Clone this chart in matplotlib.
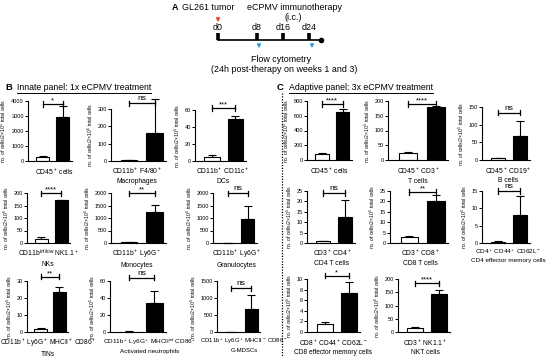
import numpy as np
import matplotlib
matplotlib.use("Agg")
import matplotlib.pyplot as plt
import matplotlib.transforms as mtransforms

plt.rcParams['font.family'] = ['Liberation Sans', 'DejaVu Sans']
plt.rcParams['mathtext.fontset'] = 'custom'
plt.rcParams['mathtext.rm'] = 'Liberation Sans'
plt.rcParams['mathtext.it'] = 'Liberation Sans:italic'
plt.rcParams['mathtext.bf'] = 'Liberation Sans:bold'

# ---------------- data ----------------
# B: innate panel (1x eCPMV)
b_labels = [
    "CD45$^+$ cells",
    "CD11b$^+$ F4/80$^+$\nMacrophages",
    "CD11b$^+$ CD11c$^+$\nDCs",
    "CD11b$^{\\mathrm{int/low}}$ NK1.1$^+$\nNKs",
    "CD11b$^+$ Ly6G$^-$\nMonocytes",
    "CD11b$^+$ Ly6G$^+$\nGranulocytes",
    "CD11b$^+$ Ly6G$^+$ MHCII$^+$ CD86$^+$\nTINs",
    "CD11b$^+$ Ly6G$^+$ MHCII$^{\\mathrm{int}}$ CD86$^+$\nActivated neutrophils",
    "CD11b$^+$ Ly6G$^+$ MHCII$^-$ CD86$^-$\nG-MDSCs",
]
b_ctrl = [250, 3, 5, 18, 40, 15, 1.5, 0.3, 5]
b_ctrl_err = [60, 2, 1.5, 5, 20, 5, 0.8, 0.3, 3]
b_trt = [2950, 160, 50, 172, 1250, 950, 23.5, 34, 680]
b_trt_err = [750, 200, 3, 1, 270, 520, 3, 14, 420]
b_sig = ["*", "ns", "***", "****", "**", "ns", "**", "ns", "ns"]
b_ymax = [4000, 300, 60, 200, 2000, 2000, 30, 60, 1500]
b_ystep = [1000, 100, 20, 50, 500, 500, 10, 20, 500]

# C: adaptive panel (3x eCPMV)
c_labels = [
    "CD45$^+$ cells",
    "CD45$^+$ CD3$^+$\nT cells",
    "CD45$^+$ CD19$^+$\nB cells",
    "CD3$^+$ CD4$^+$\nCD4 T cells",
    "CD3$^+$ CD8$^+$\nCD8 T cells",
    "CD4$^+$ CD44$^+$ CD62L$^-$\nCD4 effector memory cells",
    "CD8$^+$ CD44$^+$ CD62L$^-$\nCD8 effector memory cells",
    "CD3$^+$ NK1.1$^+$\nNKT cells",
]
c_ctrl = [85, 25, 5, 0.8, 3, 0.4, 1.5, 15]
c_ctrl_err = [10, 3, 2, 0.4, 0.5, 0.2, 0.3, 3]
c_trt = [650, 180, 67, 12.5, 20, 8.2, 7.4, 145]
c_trt_err = [35, 3, 43, 8, 3, 5.3, 2, 12]
c_sig = ["****", "****", "ns", "ns", "**", "ns", "*", "****"]
c_ymax = [800, 200, 150, 25, 25, 15, 10, 200]
c_ystep = [200, 50, 50, 5, 5, 5, 2, 50]

# ---------------- layout ----------------
# pixels: left, right, zero line, top, label centre x, label font size
b_geom = [
    (28, 72, 161, 101, 55, 4.9), (111, 166, 161, 109, 137, 4.9),
    (195, 246, 161, 110, 223, 4.9),
    (27, 70, 243, 193, 48, 4.9), (111, 166, 243, 193, 137, 4.9),
    (213, 257, 243, 193, 237, 4.9),
    (27, 68, 332, 281, 48, 4.8), (110, 166, 332, 281, 150, 4.6),
    (217, 260, 332, 281, 244, 4.3),
]
b_brk = [0.95, 1.11, 1.04, 1.0, 1.0, 1.0, 1.08, 1.06, 0.86]
c_geom = [
    (307, 352, 160, 101, 330, 4.9), (388, 448, 160, 101, 418, 4.9),
    (482, 530, 160, 107, 508, 4.9),
    (307, 355, 243, 191, 332, 4.9), (390, 448, 243, 191, 420, 4.9),
    (482, 530, 243, 191, 508, 4.6),
    (307, 360, 332, 279, 333, 4.8), (398, 450, 332, 279, 425, 4.9),
]
c_brk = [0.95, 0.95, 0.89, 0.96, 0.98, 1.0, 1.06, 0.92]

W, H = 550, 360
fig = plt.figure(figsize=(5.5, 3.6), dpi=100)


def bar_panel(geom, label, ctrl, ctrl_err, trt, trt_err, sig, ymax, ystep, brk):
    left, right, y0, ytop, lx, lfs = geom
    ax = fig.add_axes([left / W, (H - y0) / H, (right - left) / W, (y0 - ytop) / H])
    x = np.array([0, 1])
    ax.bar(x, [ctrl, trt], width=0.65, color=['white', 'black'],
           edgecolor='black', linewidth=0.8, zorder=2)
    ax.errorbar(x, [ctrl, trt], yerr=[[0, 0], [ctrl_err, trt_err]], fmt='none',
                ecolor='black', elinewidth=0.8, capsize=3, capthick=0.8,
                zorder=1, clip_on=False)
    ax.set_xlim(-0.72, 1.45)
    ax.set_ylim(0, ymax)
    ax.set_yticks(np.arange(0, ymax + ystep / 2, ystep))
    ax.set_xticks([])
    for s in ['top', 'right']:
        ax.spines[s].set_visible(False)
    for s in ['left', 'bottom']:
        ax.spines[s].set_linewidth(0.8)
    ax.tick_params(axis='y', labelsize=4.0, length=2, width=0.7, pad=1)
    ax.set_ylabel("no. of cells/2×10$^5$ total cells", fontsize=3.7, labelpad=2)
    # x label: centred at given pixel position under the axes
    ax.text((lx - left) / (right - left), -0.1, label, fontsize=lfs,
            ha='center', va='top', linespacing=1.35, transform=ax.transAxes)
    trans = mtransforms.blended_transform_factory(ax.transData, ax.transAxes)
    tick = 0.05
    ax.plot([0, 1], [brk, brk], color='black', lw=0.9, transform=trans, clip_on=False)
    for xx in (0, 1):
        ax.plot([xx, xx], [brk - tick, brk + tick], color='black', lw=0.9,
                transform=trans, clip_on=False)
    if sig == "ns":
        ax.text(0.5, brk + 0.02, sig, fontsize=6, ha='center', va='bottom',
                transform=trans)
    else:
        ax.text(0.5, brk - 0.01, sig, fontsize=5.5, ha='center', va='bottom',
                transform=trans)
    return ax


for i in range(len(b_labels)):
    bar_panel(b_geom[i], b_labels[i], b_ctrl[i], b_ctrl_err[i], b_trt[i],
              b_trt_err[i], b_sig[i], b_ymax[i], b_ystep[i], b_brk[i])

for i in range(len(c_labels)):
    bar_panel(c_geom[i], c_labels[i], c_ctrl[i], c_ctrl_err[i], c_trt[i],
              c_trt_err[i], c_sig[i], c_ymax[i], c_ystep[i], c_brk[i])

# ---------------- overlay: panel A, headers, divider ----------------
ov = fig.add_axes([0, 0, 1, 1], zorder=-1)
ov.set_xlim(0, W)
ov.set_ylim(H, 0)
ov.axis('off')

fs = 6.4
ov.text(175, 8, "A", fontsize=fs, fontweight='bold', ha='center', va='center')
ov.text(182, 8, "GL261 tumor", fontsize=fs, ha='left', va='center')
ov.text(247, 8, "eCPMV immunotherapy", fontsize=fs, ha='left', va='center')
ov.text(293, 18, "(i.c.)", fontsize=fs, ha='center', va='center')

days = ["d0", "d8", "d16", "d24"]
day_x = [218, 257, 283, 309]
ov.plot([218, 321], [40, 40], color='black', lw=1.2)
ov.plot([321], [40], 'o', color='black', ms=3)
for dx, dl in zip(day_x, days):
    ov.plot([dx, dx], [33, 40], color='black', lw=2.6, solid_capstyle='butt')
    ov.text(dx, 28, dl, fontsize=fs, ha='center', va='center')
ov.annotate("", xy=(218, 25), xytext=(218, 15),
            arrowprops=dict(arrowstyle='-|>', color='#e8452c', lw=1.0,
                            mutation_scale=5))
for bx in (259, 312):
    ov.annotate("", xy=(bx, 51), xytext=(bx, 42),
                arrowprops=dict(arrowstyle='-|>', color='#2a9de0', lw=1.0,
                                mutation_scale=5))
ov.text(281, 59, "Flow cytometry", fontsize=fs, ha='center', va='center')
ov.text(284, 70, "(24h post-therapy on weeks 1 and 3)", fontsize=fs,
        ha='center', va='center')

# headers with underline
ov.text(5, 88, "B", fontsize=6.8, fontweight='bold', ha='left', va='center')
hb = ov.text(17, 88, "Innate panel: 1x eCPMV treatment", fontsize=6.3,
             ha='left', va='center')
ov.text(277, 88, "C", fontsize=6.8, fontweight='bold', ha='left', va='center')
hc = ov.text(289, 88, "Adaptive panel: 3x eCPMV treatment", fontsize=6.3,
             ha='left', va='center')
fig.canvas.draw()
r = fig.canvas.get_renderer()
for t in (hb, hc):
    bb = t.get_window_extent(renderer=r)
    ov.plot([bb.x0, bb.x1], [93, 93], color='black', lw=0.7)

ov.plot([282, 282], [93, 357], color='black', lw=0.9, ls=(0, (1, 1.2)))

fig.savefig("out.png", dpi=100)
